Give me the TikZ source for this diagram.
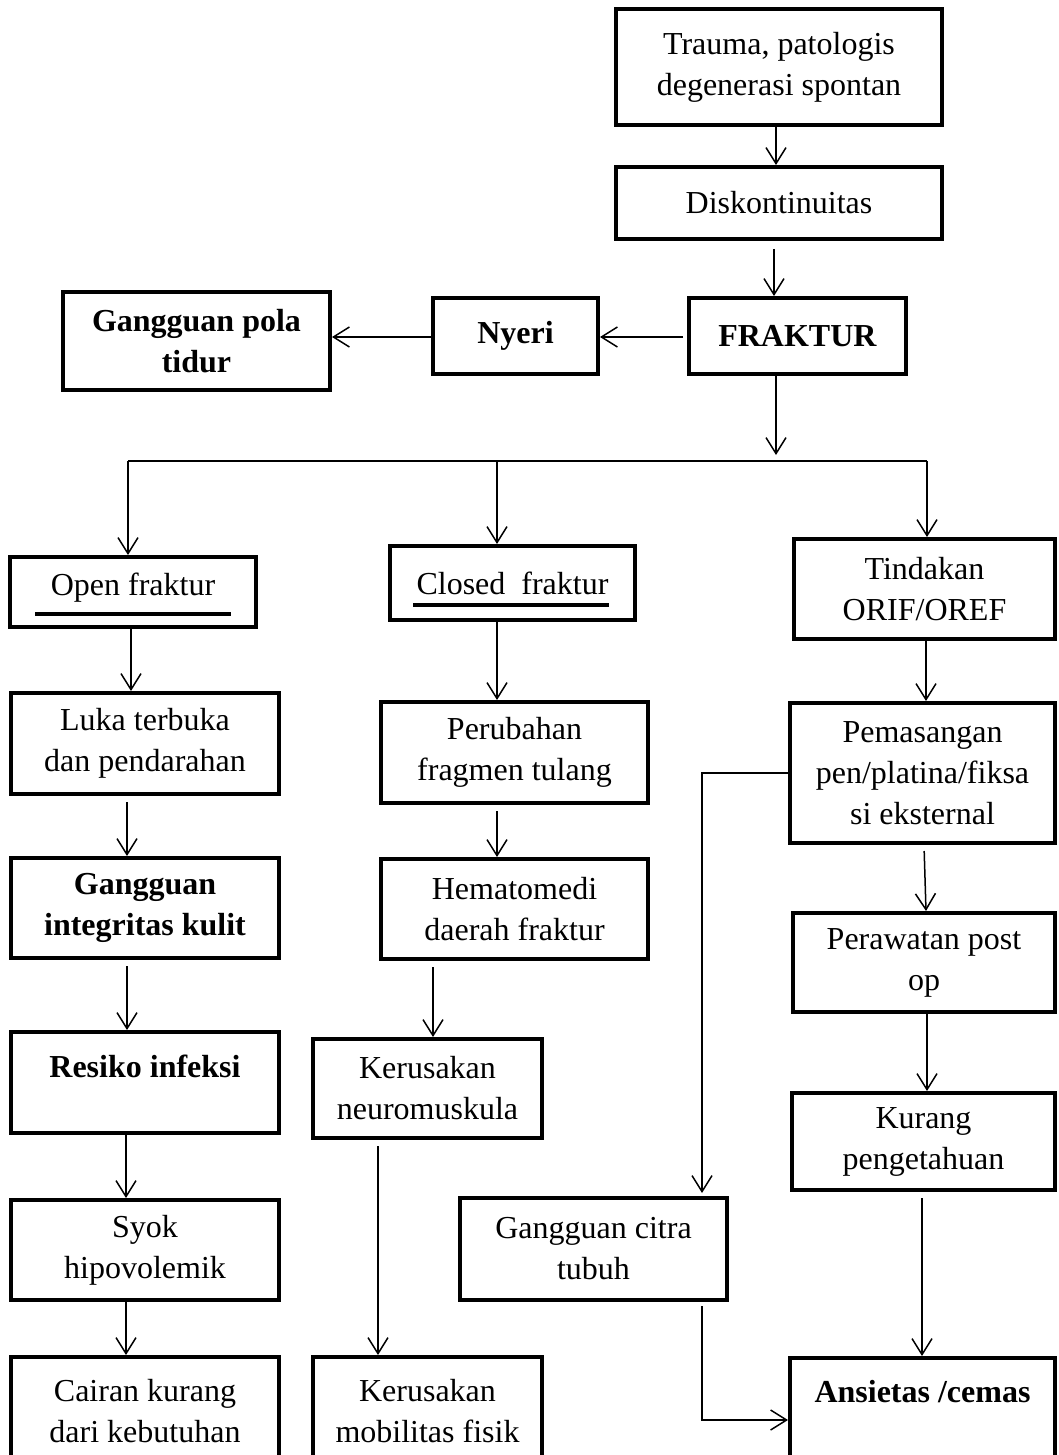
\documentclass[tikz,border=0pt]{standalone}
\usepackage{fontspec}
\setmainfont{Liberation Serif}
\usetikzlibrary{arrows.meta,calc}
\begin{document}
\begin{tikzpicture}[x=0.5pt,y=-0.5pt,
  box/.style={draw,line width=2pt,rectangle,inner sep=0pt,align=center,font=\fontsize{16}{20.5}\selectfont},
  arr/.style={line width=0.75pt,-{Straight Barb[length=8pt,width=10pt,line width=0.75pt]}},
  ln/.style={line width=0.75pt},
  uline/.style={line width=2.2pt}]
\useasboundingbox (0,0) rectangle (1059,1455);
\clip (0,0) rectangle (1059,1455);
% boxes
\node[box,minimum width=163pt,minimum height=58pt] (trauma) at (779,67) {Trauma, patologis\\degenerasi spontan};
\node[box,minimum width=163pt,minimum height=36pt] (disk) at (779,203) {Diskontinuitas};
\node[box,minimum width=108.5pt,minimum height=38pt] (fraktur) at (797.5,336) {\textbf{FRAKTUR}};
\node[box,minimum width=82.5pt,minimum height=38pt] (nyeri) at (515.5,336) {\textbf{Nyeri}};
\node[box,minimum width=133.5pt,minimum height=49pt] (gpt) at (196.5,341) {\textbf{Gangguan pola}\\\textbf{tidur}};
\node[box,minimum width=123pt,minimum height=35pt] (open) at (133,592) {\raisebox{2pt}[\height][\depth]{Open fraktur}};
\node[box,minimum width=122.5pt,minimum height=37pt] (closed) at (512.5,583) {Closed\ \ fraktur};
\node[box,minimum width=130.5pt,minimum height=50pt] (tindakan) at (924.5,589) {Tindakan\\ORIF/OREF};
\node[box,minimum width=134pt,minimum height=50.5pt] (luka) at (145,743.5) {Luka terbuka\\dan pendarahan};
\node[box,minimum width=133.5pt,minimum height=50.5pt] (perubahan) at (514.5,752.5) {Perubahan\\fragmen tulang};
\node[box,minimum width=132.5pt,minimum height=70pt] (pemasangan) at (922.5,773) {Pemasangan\\pen/platina/fiksa\\si eksternal};
\node[box,minimum width=134pt,minimum height=50pt] (integritas) at (145,908) {\textbf{Gangguan}\\\textbf{integritas kulit}};
\node[box,minimum width=133.5pt,minimum height=50pt] (hematomedi) at (514.5,909) {Hematomedi\\daerah fraktur};
\node[box,minimum width=131pt,minimum height=49.5pt] (perawatan) at (924,962.5) {Perawatan post\\op};
\node[box,minimum width=134pt,minimum height=50.5pt] (resiko) at (145,1082.5) {\textbf{Resiko infeksi}\\[-4pt]\mbox{}};
\node[box,minimum width=114.5pt,minimum height=49.5pt] (neuro) at (427.5,1088.5) {Kerusakan\\neuromuskula};
\node[box,minimum width=131.5pt,minimum height=48.5pt] (kurang) at (923.5,1141.5) {Kurang\\pengetahuan};
\node[box,minimum width=134pt,minimum height=50pt] (syok) at (145,1250) {Syok\\hipovolemik};
\node[box,minimum width=133.5pt,minimum height=51pt] (citra) at (593.5,1249) {Gangguan citra\\tubuh};
\node[box,minimum width=134pt,minimum height=54pt] (cairan) at (145,1411) {Cairan kurang\\dari kebutuhan};
\node[box,minimum width=114.5pt,minimum height=54pt] (mobilitas) at (427.5,1411) {Kerusakan\\mobilitas fisik};
\node[box,minimum width=132.5pt,minimum height=53.5pt] (ansietas) at (922.5,1411.5) {\textbf{Ansietas /cemas}\\\mbox{}};
% underlines
\draw[uline] (35,614) -- (231,614);
\draw[uline] (413,605) -- (609,605);
% lane coordinates
\coordinate (x776) at (776,0);
\coordinate (x774) at (774,0);
\coordinate (x131) at (131,0);
\coordinate (x127) at (127,0);
\coordinate (x126) at (126,0);
\coordinate (x926) at (926,0);
\coordinate (x924) at (924,0);
\coordinate (x927) at (927,0);
\coordinate (x922) at (922,0);
\coordinate (x702) at (702,0);
\coordinate (x433) at (433,0);
\coordinate (x378) at (378,0);
\coordinate (y337) at (0,337);
\coordinate (y1420) at (0,1420);
\coordinate (hC) at (776,461);
\coordinate (hL) at (128,461);
\coordinate (hM) at (497,461);
\coordinate (hR) at (927,461);
% connectors
\draw[arr] (trauma.south -| x776) -- (disk.north -| x776);
\draw[arr,shorten <=4pt] (disk.south -| x774) -- (fraktur.north -| x774);
\draw[arr,shorten <=2pt] (fraktur.west |- y337) -- (nyeri.east |- y337);
\draw[arr] (nyeri.west |- y337) -- (gpt.east |- y337);
\draw[arr,shorten >=3pt] (fraktur.south -| x776) -- (hC);
\draw[ln] (hL) -- (hR);
\draw[arr] (hL) -- (hL |- open.north);
\draw[arr] (hM) -- (hM |- closed.north);
\draw[arr] (hR) -- (hR |- tindakan.north);
\draw[arr] (open.south -| x131) -- (luka.north -| x131);
\draw[arr] (closed.south -| hM) -- (perubahan.north -| hM);
\draw[arr] (tindakan.south -| x926) -- (pemasangan.north -| x926);
\draw[arr,shorten <=3pt] (luka.south -| x127) -- (integritas.north -| x127);
\draw[arr,shorten <=3pt] (perubahan.south -| hM) -- (hematomedi.north -| hM);
\draw[arr,shorten <=3pt] (pemasangan.south -| x924) -- (perawatan.north -| x926);
\draw[arr,shorten >=1.5pt] (pemasangan.west) -| (citra.north -| x702);
\draw[arr,shorten <=3pt] (integritas.south -| x127) -- (resiko.north -| x127);
\draw[arr,shorten <=3pt] (hematomedi.south -| x433) -- (neuro.north -| x433);
\draw[arr] (perawatan.south -| x927) -- (kurang.north -| x927);
\draw[arr] (resiko.south -| x126) -- (syok.north -| x126);
\draw[arr] (syok.south -| x126) -- (cairan.north -| x126);
\draw[arr,shorten <=3pt] (neuro.south -| x378) -- (mobilitas.north -| x378);
\draw[arr,shorten <=3pt] (kurang.south -| x922) -- (ansietas.north -| x922);
\draw[arr,shorten <=2pt] (citra.south -| x702) |- (ansietas.west |- y1420);
\end{tikzpicture}
\end{document}
